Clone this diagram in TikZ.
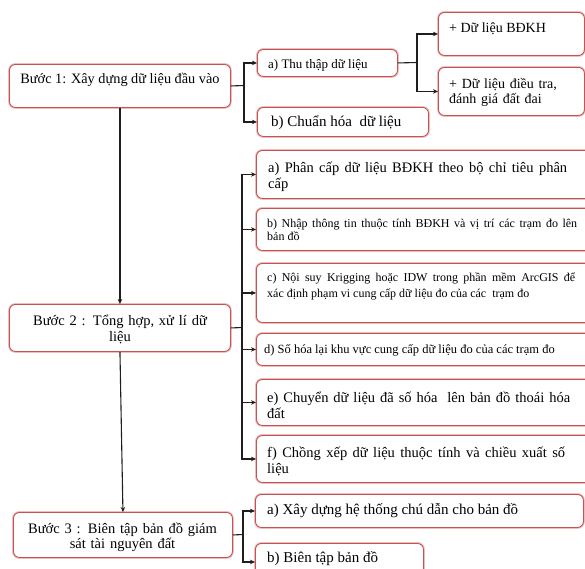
\documentclass[tikz,border=0pt]{standalone}
\usepackage{fontspec}
\setmainfont{Liberation Serif}
\usetikzlibrary{arrows.meta}
\definecolor{boxred}{RGB}{196,84,84}
\definecolor{boxpink}{RGB}{238,190,190}
\definecolor{linec}{RGB}{30,30,30}
\tikzset{
  box/.style={draw=boxred, line width=0.9pt, rounded corners=6pt, fill=white,
    preaction={draw=boxpink, line width=2.8pt}, inner sep=0pt, anchor=north west},
  lbl/.style={inner sep=0pt, anchor=base west},
  conn/.style={draw=linec, line width=1.1pt},
  arr/.style={conn, -{Stealth[length=5pt,width=4.5pt]}},
}
\newcommand\mybox[5]{\node[box, minimum width={#4-#2}, minimum height={#5-#3}] (#1) at (#2,#3) {};}
\newcommand\fs[2]{\fontsize{#1}{#2}\selectfont}
\begin{document}
\begin{tikzpicture}[x=1pt,y=-1pt]
\useasboundingbox (0,0) rectangle (585,568);
\clip (0,0) rectangle (585,568);
% boxes
\mybox{b1}{9}{64}{230}{107}
\mybox{b2}{9}{304}{230}{351}
\mybox{b3}{13}{512}{232}{557}
\mybox{a1}{257}{49}{397}{76}
\mybox{a2}{257}{107}{428}{136}
\mybox{p1}{438}{12}{584}{55}
\mybox{p2}{438}{67}{584}{115}
\mybox{m1}{256}{150}{595}{198}
\mybox{m2}{256}{208}{595}{250}
\mybox{m3}{256}{263}{595}{322}
\mybox{m4}{256}{333}{595}{365}
\mybox{m5}{256}{379}{595}{425}
\mybox{m6}{256}{435}{595}{482}
\mybox{n1}{255}{494}{583}{527}
\mybox{n2}{255}{543}{423}{580}
% texts
\node[inner sep=0pt, anchor=base, font=\fs{14.3}{16}] (b1t) at (120,83) {Bước 1: Xây dựng dữ liệu đầu vào};
\node[inner sep=0pt, anchor=base, text width=210pt, align=center, font=\fs{14.5}{16}] (b2t) at (120,325) {Bước 2 : Tổng hợp, xử lí dữ\\liệu};
\node[inner sep=0pt, anchor=base, text width=210pt, align=center, font=\fs{14.5}{15.5}] (b3t) at (122.5,533) {Bước 3 : Biên tập bản đồ giám\\sát tài nguyên đất};
\node[lbl, font=\fs{13}{15}] (a1t) at (268,68) {a) Thu thập dữ liệu};
\node[lbl, font=\fs{15}{16}] (a2t) at (271,126) {b) Chuẩn hóa~ dữ liệu};
\node[lbl, font=\fs{14}{15}] (p1t) at (449,32) {+ Dữ liệu BĐKH};
\node[lbl, text width=130pt, align=left, font=\fs{14}{15}] (p2t) at (449,88) {+ Dữ liệu điều tra,\\đánh giá đất đai};
\node[lbl, text width=299pt, align=justify, font=\fs{14.5}{16}] (m1t) at (268,172) {a) Phân cấp dữ liệu BĐKH theo bộ chỉ tiêu phân\linebreak cấp};
\node[lbl, text width=310pt, align=justify, font=\fs{12}{13}] (m2t) at (267,227) {b) Nhập thông tin thuộc tính BĐKH và vị trí các trạm đo lên\linebreak bản đồ};
\node[lbl, text width=308pt, align=justify, font=\fs{12}{16}] (m3t) at (267,281) {c) Nội suy Krigging hoặc IDW trong phần mềm ArcGIS để\linebreak xác định phạm vi cung cấp dữ liệu đo của các~ trạm đo};
\node[lbl, font=\fs{12.5}{14}] (m4t) at (264,353) {d) Số hóa lại khu vực cung cấp dữ liệu đo của các trạm đo};
\node[lbl, text width=303pt, align=justify, font=\fs{14.5}{16}] (m5t) at (267,402) {e) Chuyển dữ liệu đã số hóa~ lên bản đồ thoái hóa\linebreak đất};
\node[lbl, text width=298pt, align=justify, font=\fs{14.5}{16}] (m6t) at (267,457) {f) Chồng xếp dữ liệu thuộc tính và chiều xuất số\linebreak liệu};
\node[lbl, font=\fs{15}{16}] (n1t) at (267,514) {a) Xây dựng hệ thống chú dẫn cho bản đồ};
\node[lbl, font=\fs{15}{16}] (n2t) at (267,562) {b) Biên tập bản đồ};
% junctions
\coordinate (j1) at (244,85.5);
\coordinate (j2) at (417,62.5);
\coordinate (j3) at (242,327.5);
\coordinate (j4) at (243,534.5);
% connectors
\draw[arr] (b1.south) -- (b2.north);
\draw[arr] (b2.south) -- (b3.north);
\draw[conn] (b1.east) -- (j1);
\draw[arr] (j1) |- (a1.west);
\draw[arr] (j1) |- (a2.west);
\draw[conn] (a1.east) -- (j2);
\draw[arr] (j2) |- (p1.west);
\draw[arr] (j2) |- (p2.west);
\draw[conn] (b2.east) -- (j3);
\foreach \m in {m1,m2,m3,m4,m5,m6} {\draw[arr] (j3) |- (\m.west);}
\draw[conn] (b3.east) -- (j4);
\draw[arr] (j4) |- (n1.west);
\draw[arr] (j4) |- (n2.west);
\end{tikzpicture}
\end{document}
